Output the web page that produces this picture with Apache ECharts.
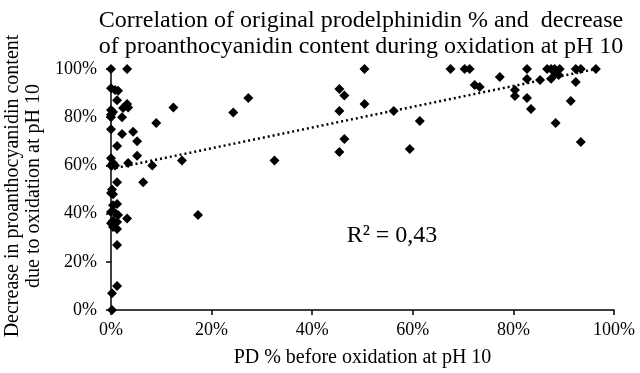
<!DOCTYPE html>
<html>
<head>
<meta charset="utf-8">
<script src="https://cdn.jsdelivr.net/npm/echarts@6/dist/echarts.min.js"></script>
<style>html,body{margin:0;padding:0;background:#fff}#c{width:640px;height:373px}</style>
</head>
<body>
<div id="c"></div>
<script>
var pdBefore = [0,3.2,0,0.8,1.4,1.2,3.2,3.4,2.4,0,0.4,0,0,2.2,9,4.4,2.2,0,5.2,1.2,5.2,0,0.4,0,0.8,3.4,8.2,6.4,1.2,0.2,0.4,0,1.2,0.4,0,0.8,1.4,3.2,0.4,1.2,0,0.4,1.2,1.2,1.2,0.2,0.2,
  12.4,24.3,27.3,14.1,17.3,32.5,45.4,46.4,45.4,46.4,45.4,50.4,50.4,56.2,61.4,59.4,
  67.5,70.3,71.3,72.3,73.3,77.3,80.3,80.3,82.7,82.7,82.7,83.5,85.3,86.7,87.5,88.2,89.2,87.5,88.4,89,92.4,93.4,92.4,91.4,88.4,93.4,96.4];
var decrease = [100,100,92,91.3,91,87,85.5,84,83.8,83,82.2,81,80,80,77.6,74,73,75,70,68,64,63,61,60,60,61,60,53,53,50,48,48.5,44,43.5,40.7,40.2,39.4,38,37,36.5,36,34.4,33.6,27,10,7,0,
  84,82,88,62,39.4,62,91.7,89,82.6,71,65.6,100,85.5,82.6,78.4,66.8,
  100,100,100,93.4,92.5,96.7,91.3,88.8,100,95.9,88,83.4,95.4,100,100,100,100,96,98,97.5,100,100,94.6,86.7,77.6,69.7,100];
var trendX = [0, 96.4];
var trendY = [58.5, 100];
var xTicks = [0,20,40,60,80,100];
var yTicks = [0,20,40,60,80,100];

var pts = pdBefore.map(function(x,i){return [x, decrease[i]];});
var trend = trendX.map(function(x,i){return [x, trendY[i]];});
var serif = 'Liberation Serif';
var chart = echarts.init(document.getElementById('c'));
chart.setOption({
  animation:false,
  backgroundColor:'#fff',
  title:{text:'Correlation of original prodelphinidin % and  decrease\nof proanthocyanidin content during oxidation at pH 10',
    left:356, top:3, textAlign:'center',
    textStyle:{fontFamily:serif,fontSize:24,fontWeight:'normal',color:'#000',lineHeight:26}},
  grid:{left:111,right:26,top:69,bottom:63},
  xAxis:{type:'value',min:xTicks[0],max:xTicks[xTicks.length-1],interval:20,
    axisLine:{lineStyle:{color:'#000',width:1.5}},
    axisTick:{show:true,length:5,lineStyle:{color:'#000',width:1.5}},
    splitLine:{show:false},
    axisLabel:{formatter:'{value}%',fontFamily:serif,fontSize:18,color:'#000',margin:11},
    name:'PD % before oxidation at pH 10',nameLocation:'middle',nameGap:38,
    nameTextStyle:{fontFamily:serif,fontSize:20,color:'#000'}},
  yAxis:{type:'value',min:yTicks[0],max:yTicks[yTicks.length-1],interval:20,
    axisLine:{show:true,lineStyle:{color:'#000',width:1.5}},
    axisTick:{show:true,length:5,lineStyle:{color:'#000',width:1.5}},
    splitLine:{show:false},
    axisLabel:{formatter:'{value}%',fontFamily:serif,fontSize:18,color:'#000',margin:14}},
  graphic:[
    {type:'text',x:23,y:186,rotation:Math.PI/2,
     style:{text:'Decrease in proanthocyanidin content\ndue to oxidation at pH 10',fontFamily:serif,fontSize:20,fill:'#000',
       textAlign:'center',textVerticalAlign:'middle',lineHeight:21}},
    {type:'text',x:392,y:236,style:{text:'R² = 0,43',fontFamily:serif,fontSize:24,fill:'#000',textAlign:'center',textVerticalAlign:'middle'}}
  ],
  series:[
    {type:'scatter',data:pts,symbol:'diamond',symbolSize:10,itemStyle:{color:'#000',opacity:1},z:2},
    {type:'line',data:trend,symbol:'none',z:3,lineStyle:{color:'#000',width:2.5,type:[2,3]}}
  ]
});
</script>
</body>
</html>
